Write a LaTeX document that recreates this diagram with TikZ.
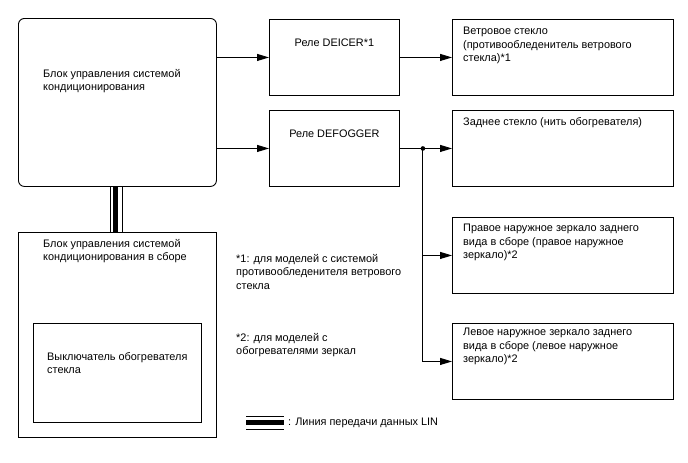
\documentclass[tikz,border=0pt]{standalone}
\usepackage{fontspec}
\setmainfont{Liberation Sans}
\usetikzlibrary{arrows.meta, positioning}

\begin{document}
\begin{tikzpicture}[
  x=1pt, y=-1pt,
  font=\fontsize{10.9}{13.6}\selectfont,
  box/.style={draw, line width=0.9pt, anchor=north west, inner sep=0pt, minimum width=221pt, minimum height=76pt},
  relaybox/.style={box, minimum width=130pt},
  ecubox/.style={draw, line width=0.9pt, anchor=north west, inner sep=0pt, minimum width=198pt},
  txt/.style={align=left, inner sep=0pt, anchor=north west},
  arrow/.style={-{Triangle[length=12pt, width=7pt]}, line width=0.9pt},
  linthin/.style={line width=0.9pt},
  linthick/.style={line width=5pt}
]
\useasboundingbox (0,0) rectangle (688,463);

\node[ecubox, rounded corners=6pt, minimum height=168pt] (ctrl) at (18,18) {};
\node[ecubox, minimum height=205pt] (sub) at (18,232) {};
\node[draw, line width=0.9pt, anchor=north west, minimum width=168pt, minimum height=99pt] (sw) at (33,323) {};

\node[relaybox] (deicer) at (269,19) {};
\node[relaybox] (defog) at (269,110) {};

\node[box] (wind) at (452,19) {};
\node[box] (rear) at (452,110) {};
\node[box] (rmir) at (452,217) {};
\node[box] (lmir) at (452,323) {};

\node[txt] at ([shift={(25,51)}]ctrl.north west) {Блок управления системой\\кондиционирования};
\node[txt] at ([shift={(25,7)}]sub.north west) {Блок управления системой\\кондиционирования в сборе};
\node[txt] at ([shift={(14,29)}]sw.north west) {Выключатель обогревателя\\стекла};
\node[txt, anchor=north] at ([shift={(0,20)}]deicer.north) {Реле DEICER*1};
\node[txt, anchor=north] at ([shift={(0,20)}]defog.north) {Реле DEFOGGER};
\node[txt] at ([shift={(11,8)}]wind.north west) {Ветровое стекло\\(противообледенитель ветрового\\стекла)*1};
\node[txt] at ([shift={(11,7)}]rear.north west) {Заднее стекло (нить обогревателя)};
\node[txt] at ([shift={(11,7)}]rmir.north west) {Правое наружное зеркало заднего\\вида в сборе (правое наружное\\зеркало)*2};
\node[txt] at ([shift={(11,5)}]lmir.north west) {Левое наружное зеркало заднего\\вида в сборе (левое наружное\\зеркало)*2};

\node[txt] (note1) at (236,254) {*1: для моделей с системой\\противообледенителя ветрового\\стекла};
\node[txt] (note2) at (236,333) {*2: для моделей с\\обогревателями зеркал};

\draw[arrow] (ctrl.east |- deicer.west) -- (deicer.west);
\draw[arrow] (ctrl.east |- defog.west) -- (defog.west);
\draw[arrow] (deicer.east) -- (wind.west);
\draw[arrow] (defog.east) -- (rear.west);

\coordinate[right=23pt of defog.east] (jn);
\fill (jn) circle (2.3);
\draw[arrow] (jn) |- (rmir.west);
\draw[arrow] (jn) |- (lmir.west);

\draw[linthin] ([xshift=-7pt]ctrl.south) -- ([xshift=-7pt]sub.north);
\draw[linthick] ([xshift=-1.5pt]ctrl.south) -- ([xshift=-1.5pt]sub.north);
\draw[linthin] ([xshift=5pt]ctrl.south) -- ([xshift=5pt]sub.north);

\coordinate (lin1) at (246,422.5);
\coordinate (lin2) at (284,422.5);
\draw[linthin] ([yshift=6.5pt]lin1) -- ([yshift=6.5pt]lin2);
\draw[line width=4.4pt] (lin1) -- (lin2);
\draw[linthin] ([yshift=-6.5pt]lin1) -- ([yshift=-6.5pt]lin2);
\node[txt, anchor=west] (lintxt) at ([xshift=4pt]lin2) {: Линия передачи данных LIN};

\end{tikzpicture}
\end{document}
